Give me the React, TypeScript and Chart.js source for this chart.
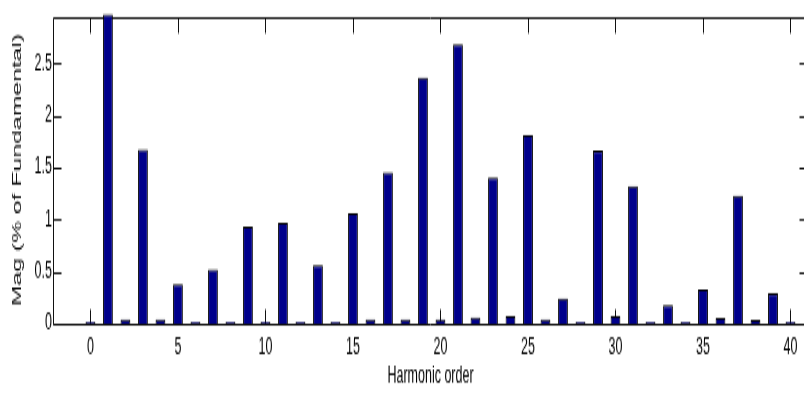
import React, { useEffect, useRef } from "react";
import { Chart, registerables } from "chart.js";

Chart.register(...registerables);

// Harmonic order (x) and magnitude in % of fundamental (y)
const harmonicOrders = [
  0, 1, 2, 3, 4, 5, 6, 7, 8, 9, 10, 11, 12, 13, 14, 15, 16, 17, 18, 19, 20,
  21, 22, 23, 24, 25, 26, 27, 28, 29, 30, 31, 32, 33, 34, 35, 36, 37, 38, 39, 40,
];
const magnitudes = [
  0.02, 2.97, 0.04, 1.67, 0.04, 0.38, 0.02, 0.52, 0.02, 0.93, 0.02, 0.97, 0.02,
  0.56, 0.02, 1.06, 0.04, 1.45, 0.04, 2.36, 0.04, 2.68, 0.06, 1.4, 0.075, 1.81,
  0.04, 0.24, 0.02, 1.66, 0.075, 1.32, 0.02, 0.18, 0.02, 0.33, 0.055, 1.23,
  0.035, 0.29, 0.02,
];
const xTickValues = [0, 5, 10, 15, 20, 25, 30, 35, 40];
const yTickValues = [0, 0.5, 1, 1.5, 2, 2.5];

const X_MIN = -2.14;
const X_MAX = 41;
const Y_MIN = 0;
const Y_MAX = 2.95;

// The reference image is vertically stretched: render at a lower height and stretch via CSS.
const CANVAS_W = 812;
const CANVAS_H = 208;
const CSS_H = 396;

const FONT = "'Liberation Sans', Arial, Helvetica, sans-serif";

const axesBoxPlugin = {
  id: "axesBox",
  beforeDatasetsDraw(chart: any) {
    const { ctx, chartArea, scales } = chart;
    const { left, right, top, bottom } = chartArea;
    const x = scales.x;
    const y = scales.y;
    const tl = 8;
    ctx.save();
    ctx.strokeStyle = "#111";
    ctx.lineWidth = 1;
    ctx.beginPath();
    const L = Math.round(left) + 0.5;
    const R = Math.round(right) - 0.5;
    const T = Math.round(top) + 0.5;
    const B = Math.round(bottom) + 0.5;
    ctx.moveTo(L, T);
    ctx.lineTo(R, T);
    ctx.moveTo(L, B);
    ctx.lineTo(R, B);
    ctx.moveTo(L, T);
    ctx.lineTo(L, B);
    ctx.moveTo(R, T);
    ctx.lineTo(R, B);
    x.ticks.forEach((t: any) => {
      const px = Math.round(x.getPixelForValue(t.value)) + 0.5;
      ctx.moveTo(px, B);
      ctx.lineTo(px, B - tl);
      ctx.moveTo(px, T);
      ctx.lineTo(px, T + tl);
    });
    y.ticks.forEach((t: any) => {
      const py = Math.round(y.getPixelForValue(t.value)) + 0.5;
      ctx.moveTo(L, py);
      ctx.lineTo(L + tl, py);
      ctx.moveTo(R, py);
      ctx.lineTo(R - tl, py);
    });
    ctx.stroke();
    ctx.restore();
  },
};

export default function App() {
  const canvasRef = useRef<HTMLCanvasElement | null>(null);

  useEffect(() => {
    const canvas = canvasRef.current;
    if (!canvas) return;
    const data = harmonicOrders.map((h, i) => ({ x: h, y: magnitudes[i] }));
    const chart = new Chart(canvas, {
      type: "bar",
      data: {
        datasets: [
          {
            data: data as any,
            backgroundColor: "#00008B",
            borderColor: "#000000",
            borderWidth: 1,
            barPercentage: 0.56,
            categoryPercentage: 1,
            clip: false as any,
          },
        ],
      },
      options: {
        responsive: false,
        animation: false,
        devicePixelRatio: 1,
        layout: { padding: { top: 2, right: 4, left: 0, bottom: 0 } },
        plugins: {
          legend: { display: false },
          tooltip: { enabled: false },
        },
        scales: {
          x: {
            type: "linear",
            offset: false,
            min: X_MIN,
            max: X_MAX,
            grid: { display: false, drawTicks: false, offset: false },
            border: { display: false },
            afterBuildTicks: (scale: any) => {
              scale.ticks = xTickValues.map((v) => ({ value: v }));
            },
            afterFit: (scale: any) => {
              scale.height = 38;
            },
            ticks: {
              autoSkip: false,
              maxRotation: 0,
              padding: 5,
              color: "#000",
              font: { family: FONT, size: 12.5 },
              callback: (v: any) => String(v),
            },
            title: {
              display: true,
              text: "Harmonic order",
              color: "#000",
              font: { family: FONT, size: 12.5 },
              padding: { top: 0, bottom: 3 },
            },
          },
          y: {
            type: "linear",
            min: Y_MIN,
            max: Y_MAX,
            grid: { display: false, drawTicks: false },
            border: { display: false },
            afterBuildTicks: (scale: any) => {
              scale.ticks = yTickValues.map((v) => ({ value: v }));
            },
            afterFit: (scale: any) => {
              scale.width = 53;
            },
            ticks: {
              padding: 1,
              color: "#000",
              font: { family: FONT, size: 12.5 },
              callback: (v: any) => String(v),
            },
            title: {
              display: true,
              text: "Mag (% of Fundamental)",
              color: "#111",
              font: { family: FONT, size: 13 },
              padding: { top: 10, bottom: 0 },
            },
          },
        },
      },
      plugins: [axesBoxPlugin],
    });
    return () => chart.destroy();
  }, []);

  return (
    <div
      style={{
        position: "fixed",
        left: 0,
        top: 0,
        width: CANVAS_W,
        height: CSS_H,
        overflow: "hidden",
        background: "#fff",
      }}
    >
      <canvas
        ref={canvasRef}
        width={CANVAS_W}
        height={CANVAS_H}
        style={{ width: `${CANVAS_W}px`, height: `${CSS_H}px`, display: "block" }}
      />
    </div>
  );
}
